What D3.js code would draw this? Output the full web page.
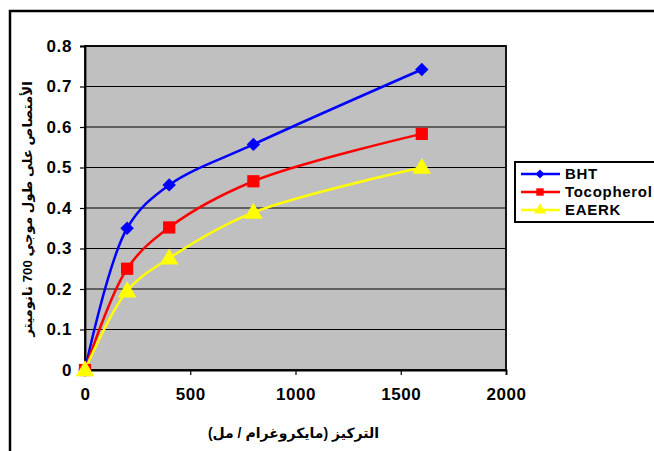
<!DOCTYPE html>
<html>
<head>
<meta charset="utf-8">
<script src="https://cdn.jsdelivr.net/npm/d3@7"></script>
<style>
  html, body { margin: 0; padding: 0; background: #fff; }
  svg { display: block; }
  text { font-family: "Liberation Sans", Arial, "DejaVu Sans", sans-serif; }
</style>
</head>
<body>
<svg id="chart" width="654" height="451"></svg>
<script>
// Concentration (µg/mL) on the x axis
const concentrations = [0, 200, 400, 800, 1600];

// Absorbance at 700 nm for each sample
const bhtValues        = [0, 0.35, 0.457, 0.557, 0.742];
const tocopherolValues = [0, 0.25, 0.352, 0.466, 0.583];
const eaerkValues      = [0, 0.195, 0.276, 0.389, 0.50];

const seriesNames  = ["BHT", "Tocopherol", "EAERK"];
const seriesColors = ["#0000ff", "#ff0000", "#ffff00"];
const seriesShapes = ["diamond", "square", "triangle"];

const xTicks = [0, 500, 1000, 1500, 2000];
const yTicks = [0, 0.1, 0.2, 0.3, 0.4, 0.5, 0.6, 0.7, 0.8];
const yTickLabels = ["0", "0.1", "0.2", "0.3", "0.4", "0.5", "0.6", "0.7", "0.8"];

const xTitle = "التركيز (مايكروغرام / مل)";
const yTitle = "الأمتصاص على طول موجي 700 نانوميتر";

const series = [bhtValues, tocopherolValues, eaerkValues].map((vals, i) => ({
  name: seriesNames[i],
  color: seriesColors[i],
  shape: seriesShapes[i],
  points: concentrations.map((c, j) => ({ x: c, y: vals[j] }))
}));

const svg = d3.select("#chart");

// Outer frame (runs off the right and bottom edges)
svg.append("rect")
  .attr("x", 10).attr("y", 11)
  .attr("width", 700).attr("height", 500)
  .attr("fill", "#fff").attr("stroke", "#000").attr("stroke-width", 2.5);

const plot = { left: 85, top: 46, right: 506, bottom: 370 };

const x = d3.scaleLinear().domain([0, 2000]).range([plot.left, plot.right]);
const y = d3.scaleLinear().domain([0, 0.8]).range([plot.bottom, plot.top]);

// Plot background
svg.append("rect")
  .attr("x", plot.left).attr("y", plot.top)
  .attr("width", plot.right - plot.left).attr("height", plot.bottom - plot.top)
  .attr("fill", "#c0c0c0");

// Horizontal gridlines
svg.append("g").selectAll("line")
  .data(yTicks.slice(1))
  .join("line")
  .attr("x1", plot.left).attr("x2", plot.right)
  .attr("y1", d => y(d)).attr("y2", d => y(d))
  .attr("stroke", "#000").attr("stroke-width", 1.2);

// Plot border
svg.append("rect")
  .attr("x", plot.left).attr("y", plot.top)
  .attr("width", plot.right - plot.left).attr("height", plot.bottom - plot.top)
  .attr("fill", "none").attr("stroke", "#000").attr("stroke-width", 1.8);

const tickFont = sel => sel
  .attr("font-size", 17).attr("font-weight", "bold").attr("fill", "#000")
  .attr("letter-spacing", 0.6)
  .attr("font-family", "'Liberation Sans', Arial, sans-serif");

// Axes
const yAxis = d3.axisLeft(y).tickValues(yTicks)
  .tickFormat((d, i) => yTickLabels[i]).tickSize(5).tickPadding(8);
const gy = svg.append("g").attr("transform", `translate(${plot.left},0)`).call(yAxis);
gy.select(".domain").attr("stroke", "#000").attr("stroke-width", 1.8);
gy.selectAll(".tick line").attr("stroke", "#000").attr("stroke-width", 1.2);
gy.selectAll(".tick text").call(tickFont);

const xAxis = d3.axisBottom(x).tickValues(xTicks).tickFormat(d3.format("d")).tickSize(5).tickPadding(13);
const gx = svg.append("g").attr("transform", `translate(0,${plot.bottom})`).call(xAxis);
gx.select(".domain").attr("stroke", "#000").attr("stroke-width", 1.8);
gx.selectAll(".tick line").attr("stroke", "#000").attr("stroke-width", 1.2);
gx.selectAll(".tick text").call(tickFont);

// Smoothed series lines
const line = d3.line()
  .x(d => x(d.x)).y(d => y(d.y))
  .curve(d3.curveCatmullRom.alpha(0.5));

svg.append("g").selectAll("path")
  .data(series)
  .join("path")
  .attr("d", d => line(d.points))
  .attr("fill", "none")
  .attr("stroke", d => d.color)
  .attr("stroke-width", 2.5);

// Marker shapes
const symbolFor = {
  diamond: d3.symbol().type(d3.symbolSquare).size(90),
  square: d3.symbol().type(d3.symbolSquare).size(150),
  triangle: d3.symbol().type(d3.symbolTriangle).size(150)
};
const rotateFor = { diamond: 45, square: 0, triangle: 0 };

series.forEach(s => {
  svg.append("g").selectAll("path")
    .data(s.points)
    .join("path")
    .attr("d", symbolFor[s.shape]())
    .attr("transform", d => `translate(${x(d.x)},${y(d.y) + (s.shape === "triangle" ? 1 : 0)}) rotate(${rotateFor[s.shape]})`)
    .attr("fill", s.color);
});

// Axis titles
svg.append("text")
  .attr("x", (plot.left + plot.right) / 2 - 2).attr("y", 438)
  .attr("text-anchor", "middle")
  .attr("font-size", 14).attr("font-weight", "bold")
  .attr("font-family", "'DejaVu Sans', sans-serif")
  .attr("direction", "rtl")
  .text(xTitle);

svg.append("text")
  .attr("transform", `translate(32,${(plot.top + plot.bottom) / 2 + 1}) rotate(-90)`)
  .attr("text-anchor", "middle")
  .attr("font-size", 13.3).attr("font-weight", "bold")
  .attr("font-family", "'DejaVu Sans', sans-serif")
  .attr("direction", "rtl")
  .text(yTitle);

// Legend
const legend = svg.append("g");
legend.append("rect")
  .attr("x", 515).attr("y", 162).attr("width", 200).attr("height", 60)
  .attr("fill", "#fff").attr("stroke", "#000").attr("stroke-width", 2);

series.forEach((s, i) => {
  const ly = 174 + i * 18;
  legend.append("line")
    .attr("x1", 521).attr("x2", 560).attr("y1", ly).attr("y2", ly)
    .attr("stroke", s.color).attr("stroke-width", 2.5);
  legend.append("path")
    .attr("d", d3.symbol().type(s.shape === "triangle" ? d3.symbolTriangle : d3.symbolSquare)
      .size(s.shape === "diamond" ? 40 : s.shape === "square" ? 55 : 60)())
    .attr("transform", `translate(540,${ly}) rotate(${rotateFor[s.shape]})`)
    .attr("fill", s.color);
  legend.append("text")
    .attr("x", 565).attr("y", ly + 5)
    .attr("font-size", 15).attr("font-weight", "bold")
    .attr("letter-spacing", 0.7)
    .text(s.name);
});
</script>
</body>
</html>
